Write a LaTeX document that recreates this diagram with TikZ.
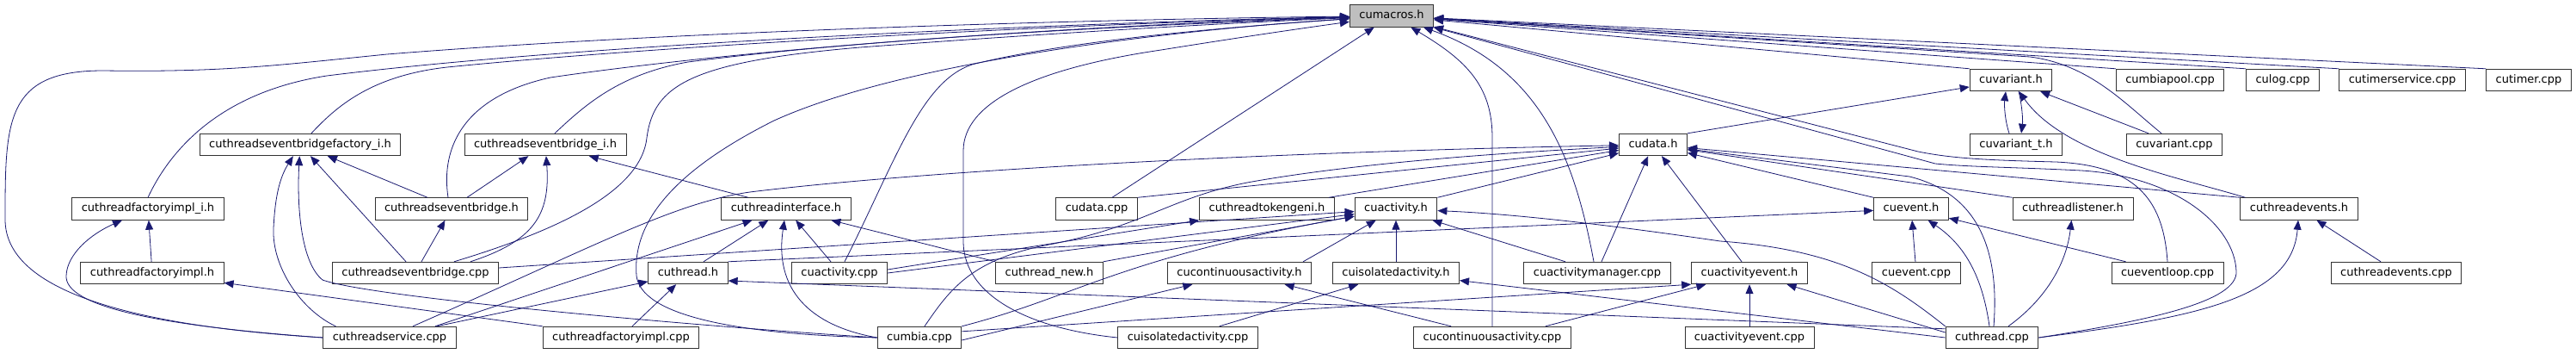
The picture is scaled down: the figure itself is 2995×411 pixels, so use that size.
\documentclass[tikz,border=0pt]{standalone}
\usepackage{fontspec}
\newfontfamily\depfont{DejaVu Sans}
\usepackage{tikz}
\usetikzlibrary{arrows.meta, positioning, calc}
\definecolor{edgeblue}{HTML}{191970}

\begin{document}
\begin{tikzpicture}[
    x=1pt, y=-1pt,
    %% File boxes
    fnode/.style = {
      draw=black!80, line width=0.9pt, fill=white,
      font=\depfont\fontsize{13}{15}\selectfont,
      inner xsep=11pt, inner ysep=0pt,
      text height=9.6pt, text depth=2.6pt, minimum height=25.5pt},
    cnode/.style = {fnode, fill=black!25},
    %% Include arrows
    inc/.style = {-{Triangle[length=11pt, width=9pt]}, line width=0.8pt, edgeblue},
  ]
    \useasboundingbox (0,0) rectangle (2995,411);

    %% ── File nodes ──────────────────────────────────────────────────────
    \node[cnode] (mac)  at (1618,18.5)  {cumacros.h};

    \node[fnode] (var)  at (2338,93)    {cuvariant.h};
    \node[fnode] (pool) at (2523,93)    {cumbiapool.cpp};
    \node[fnode] (log)  at (2654,93)    {culog.cpp};
    \node[fnode] (tsrv) at (2793,93)    {cutimerservice.cpp};
    \node[fnode] (tmr)  at (2940,93)    {cutimer.cpp};

    \node[fnode] (bfi)  at (349,168)    {cuthreadseventbridgefactory\_i.h};
    \node[fnode] (bri)  at (634,168)    {cuthreadseventbridge\_i.h};
    \node[fnode] (dat)  at (1922,168)   {cudata.h};
    \node[fnode] (vart) at (2344,168)   {cuvariant\_t.h};
    \node[fnode] (varc) at (2528,168)   {cuvariant.cpp};

    \node[fnode] (tfi)  at (172,242.5)  {cuthreadfactoryimpl\_i.h};
    \node[fnode] (brh)  at (525,242.5)  {cuthreadseventbridge.h};
    \node[fnode] (tif)  at (914,242.5)  {cuthreadinterface.h};
    \node[fnode] (datc) at (1275,242.5) {cudata.cpp};
    \node[fnode] (tok)  at (1473,242.5) {cuthreadtokengeni.h};
    \node[fnode] (act)  at (1623,242.5) {cuactivity.h};
    \node[fnode] (evh)  at (2222,242.5) {cuevent.h};
    \node[fnode] (lsn)  at (2410,242.5) {cuthreadlistener.h};
    \node[fnode] (tev)  at (2673,242.5) {cuthreadevents.h};

    \node[fnode] (tfh)  at (177,317)    {cuthreadfactoryimpl.h};
    \node[fnode] (brc)  at (483,317)    {cuthreadseventbridge.cpp};
    \node[fnode] (thh)  at (800,317)    {cuthread.h};
    \node[fnode] (actc) at (976,317)    {cuactivity.cpp};
    \node[fnode] (thn)  at (1220,317)   {cuthread\_new.h};
    \node[fnode] (cah)  at (1441,317)   {cucontinuousactivity.h};
    \node[fnode] (iah)  at (1623,317)   {cuisolatedactivity.h};
    \node[fnode] (amgr) at (1857,317)   {cuactivitymanager.cpp};
    \node[fnode] (aeh)  at (2034,317)   {cuactivityevent.h};
    \node[fnode] (evc)  at (2228,317)   {cuevent.cpp};
    \node[fnode] (loop) at (2520,317)   {cueventloop.cpp};
    \node[fnode] (tevc) at (2786,317)   {cuthreadevents.cpp};

    \node[fnode] (srv)  at (453,392)    {cuthreadservice.cpp};
    \node[fnode] (tfc)  at (722,392)    {cuthreadfactoryimpl.cpp};
    \node[fnode] (cmb)  at (1069,392)   {cumbia.cpp};
    \node[fnode] (iac)  at (1381,392)   {cuisolatedactivity.cpp};
    \node[fnode] (cac)  at (1735,392)   {cucontinuousactivity.cpp};
    \node[fnode] (aec)  at (2034,392)   {cuactivityevent.cpp};
    \node[fnode] (thc)  at (2316,392)   {cuthread.cpp};

    %% ── Into cumacros.h, from the left ──────────────────────────────────
    \draw[inc] (srv.west) .. controls (180,380) and (6,345) .. (6,255)
      .. controls (6,140) and (6,82) .. (120,82)
      .. controls (260,84) and (320,76) .. (450,63)
      .. controls (800,35) and (1300,22) .. (mac);
    \draw[inc] (tfi.north) .. controls (195,180) and (250,108) .. (380,88)
      .. controls (700,48) and (1300,25) .. (mac);
    \draw[inc] ($(bfi.north)+(13,0)$) .. controls (390,125) and (430,88) .. (520,78)
      .. controls (800,50) and (1300,26) .. (mac);
    \draw[inc] ($(brh.north)-(4,0)$) .. controls (512,170) and (540,112) .. (640,90)
      .. controls (900,52) and (1300,28) .. (mac);
    \draw[inc] ($(bri.north)+(11,0)$) .. controls (680,122) and (720,86) .. (800,72)
      .. controls (1000,46) and (1300,30) .. (mac);
    \draw[inc] ($(brc.north)+(45,0)$) .. controls (640,270) and (745,225) .. (752,160)
      .. controls (760,100) and (800,72) .. (1000,55)
      .. controls (1200,40) and (1400,28) .. (mac);
    \draw[inc] (cmb.west) .. controls (850,388) and (745,365) .. (740,320)
      .. controls (735,260) and (780,200) .. (900,140)
      .. controls (1050,72) and (1350,36) .. (mac);
    \draw[inc] ($(actc.north)+(6,0)$) .. controls (1040,190) and (1070,95) .. (1130,75)
      .. controls (1250,45) and (1450,30) .. (mac);
    \draw[inc] (iac.west) .. controls (1200,382) and (1120,345) .. (1120,280) -- (1120,175)
      .. controls (1120,120) and (1200,80) .. (1350,58)
      .. controls (1450,42) and (1520,32) .. (mac);
    \draw[inc] ($(datc.north)+(18,0)$) -- (mac);
    \draw[inc] (cac.north) -- (1735,160) .. controls (1735,100) and (1705,70) .. (mac);
    \draw[inc] ($(amgr.north)-(4,0)$) .. controls (1830,180) and (1790,80) .. (mac);

    %% ── Into cumacros.h, from the right ─────────────────────────────────
    \draw[inc] (var.north west) -- (mac);
    \draw[inc] (pool.north west) -- (mac);
    \draw[inc] (log.north west) -- (mac);
    \draw[inc] (tsrv.north west) -- (mac);
    \draw[inc] (tmr.north west) -- (mac);
    \draw[inc] ($(varc.north)-(15,0)$) .. controls (2470,120) and (2430,75) .. (2360,66) -- (mac);
    \draw[inc] (loop.north) .. controls (2515,228) and (2480,192) .. (2390,188)
      .. controls (2310,186) and (2270,184) .. (2230,176) -- (mac);
    \draw[inc] (thc.east) .. controls (2500,372) and (2602,350) .. (2600,315)
      .. controls (2598,262) and (2530,205) .. (2420,198)
      .. controls (2340,194) and (2290,194) .. (2250,190) -- (mac);

    %% ── Event bridge headers ────────────────────────────────────────────
    \draw[inc] ($(srv.north west)+(15,0)$) .. controls (350,360) and (316,310) .. (318,265)
      .. controls (320,225) and (326,205) .. (bfi);
    \draw[inc] (cmb.west) .. controls (800,378) and (430,345) .. (375,325)
      .. controls (350,305) and (345,240) .. (bfi);
    \draw[inc] ($(brc.north)-(11,0)$) -- (bfi);
    \draw[inc] ($(brh.north)-(28,0)$) -- (bfi);
    \draw[inc] ($(brh.north)+(18,0)$) -- (bri);
    \draw[inc] ($(brc.north)+(64,0)$) .. controls (620,280) and (640,250) .. (bri);
    \draw[inc] ($(tif.north)-(44,0)$) -- (bri);
    \draw[inc] ($(brc.north)+(7,0)$) -- (brh);

    %% ── Thread factory ──────────────────────────────────────────────────
    \draw[inc] (srv.west) .. controls (180,378) and (75,355) .. (77,320)
      .. controls (78,295) and (105,272) .. (tfi);
    \draw[inc] (tfh) -- (tfi);
    \draw[inc] (tfc.north west) -- (tfh);

    %% ── cuthread.h and cuthreadinterface.h ──────────────────────────────
    \draw[inc] ($(srv.north)+(55,0)$) -- (thh);
    \draw[inc] ($(tfc.north)+(13,0)$) -- (thh);
    \draw[inc] ($(thc.north west)+(0,3)$) -- ($(thh.east)+(0,9)$);
    \draw[inc] ($(srv.north)+(53,0)$) -- (tif);
    \draw[inc] ($(thh.north)+(18,0)$) -- (tif);
    \draw[inc] (cmb.west) .. controls (940,378) and (900,335) .. (tif);
    \draw[inc] ($(actc.north)-(10,0)$) -- (tif);
    \draw[inc] (thn.north west) -- (tif);

    %% ── cudata.h ────────────────────────────────────────────────────────
    \draw[inc] ($(srv.north)+(27,0)$) .. controls (700,282) and (790,232) .. (880,222)
      .. controls (1100,196) and (1500,176) .. (dat);
    \draw[inc] ($(cmb.north)+(6,0)$) .. controls (1105,335) and (1130,300) .. (1225,283)
      .. controls (1330,262) and (1360,230) .. (1450,212)
      .. controls (1600,185) and (1800,175) .. (dat);
    \draw[inc] (datc.north east) -- (dat);
    \draw[inc] ($(tok.north east)-(7,0)$) -- (dat);
    \draw[inc] (act.north east) -- (dat);
    \draw[inc] ($(amgr.north)+(5,0)$) -- (dat);
    \draw[inc] ($(aeh.north)-(9,0)$) -- (dat);
    \draw[inc] (evh.north west) -- (dat);
    \draw[inc] (lsn.north west) -- (dat);
    \draw[inc] (tev.north west) -- (dat);
    \draw[inc] ($(thc.north)+(2,0)$) .. controls (2325,290) and (2300,225) .. (2220,205) -- (dat);

    %% ── cuevent.h, cuthreadlistener.h, cuthreadevents.h ─────────────────
    \draw[inc] (thh.north east) -- (evh);
    \draw[inc] (evc) -- (evh);
    \draw[inc] ($(thc.north)-(3,0)$) .. controls (2305,322) and (2285,285) .. (evh);
    \draw[inc] ($(loop.north west)+(17,0)$) -- (evh);
    \draw[inc] ($(thc.north)+(19,0)$) .. controls (2375,350) and (2402,310) .. (lsn);
    \draw[inc] (thc.east) .. controls (2560,368) and (2665,345) .. (tev);
    \draw[inc] ($(tevc.north)-(18,0)$) -- (tev);

    %% ── cuvariant.h ─────────────────────────────────────────────────────
    \draw[inc] (dat.north east) -- (var);
    \draw[inc] ($(vart.north)-(8,0)$) .. controls (2331,140) and (2330,122) .. ($(var.south)-(6,0)$);
    \draw[inc] ($(var.south)+(9,0)$) .. controls (2351,122) and (2352,140) .. ($(vart.north)+(6,0)$);
    \draw[inc] ($(varc.north west)+(26,0)$) -- (var);
    \draw[inc] ($(tev.north west)+(6,0)$) .. controls (2530,205) and (2400,180) .. (var);

    %% ── cuactivity.h and friends ────────────────────────────────────────
    \draw[inc] ($(brc.east)-(0,6)$) -- (act);
    \draw[inc] (actc.east) -- (act);
    \draw[inc] (thn.north east) -- (act);
    \draw[inc] (cmb.north east) .. controls (1250,345) and (1300,300) .. (act);
    \draw[inc] ($(cah.north east)-(10,0)$) -- (act);
    \draw[inc] (iah) -- (act);
    \draw[inc] ($(amgr.north)-(37,0)$) -- (act);
    \draw[inc] (thc.north west) .. controls (2200,330) and (2140,290) .. (2000,280)
      .. controls (1850,258) and (1750,248) .. (act);
    \draw[inc] ($(actc.east)-(0,4)$) -- (tok.south west);

    \draw[inc] ($(cmb.east)+(0,3)$) -- (cah);
    \draw[inc] ($(cac.north west)+(44,0)$) -- (cah);
    \draw[inc] ($(iac.north east)-(45,0)$) -- (iah);
    \draw[inc] (thc.west) -- (iah);

    \draw[inc] ($(cmb.north east)+(0,6)$) -- (aeh.south west);
    \draw[inc] ($(cac.north east)-(30,0)$) -- (aeh);
    \draw[inc] (aec) -- (aeh);
    \draw[inc] ($(thc.west)-(0,6)$) -- (aeh);

  \end{tikzpicture}
\end{document}
